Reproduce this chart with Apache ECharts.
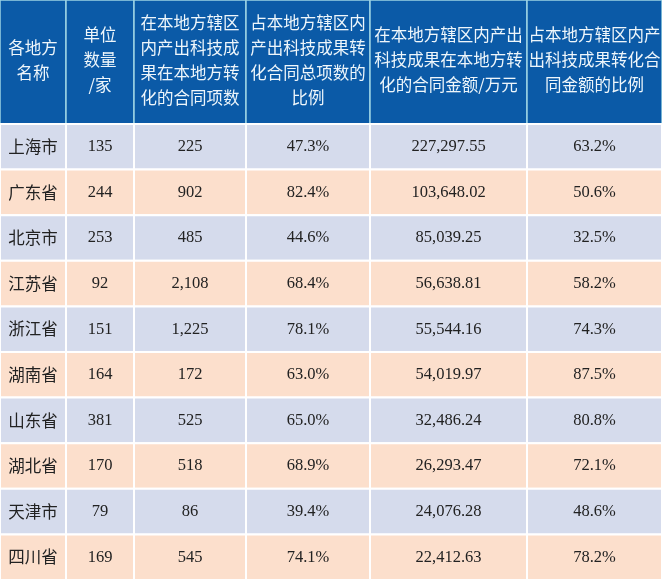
<!DOCTYPE html>
<html>
<head>
<meta charset="utf-8">
<script src="https://cdn.jsdelivr.net/npm/echarts@6/dist/echarts.min.js"></script>
<style>
    html, body { margin: 0; padding: 0; background: #fff; }
    #main { width: 662px; height: 580px; }
</style>
</head>
<body>
<div id="main"></div>
<script>
// 表头
var headers = [
    '各地方\n名称',
    '单位\n数量\n/家',
    '在本地方辖区\n内产出科技成\n果在本地方转\n化的合同项数',
    '占本地方辖区内\n产出科技成果转\n化合同总项数的\n比例',
    '在本地方辖区内产出\n科技成果在本地方转\n化的合同金额/万元',
    '占本地方辖区内产\n出科技成果转化合\n同金额的比例'
];
// 数据
var cities = ['上海市', '广东省', '北京市', '江苏省', '浙江省', '湖南省', '山东省', '湖北省', '天津市', '四川省'];
var units = [135, 244, 253, 92, 151, 164, 381, 170, 79, 169];
var contracts = [225, 902, 485, 2108, 1225, 172, 525, 518, 86, 545];
var contractShare = [47.3, 82.4, 44.6, 68.4, 78.1, 63.0, 65.0, 68.9, 39.4, 74.1];
var amounts = [227297.55, 103648.02, 85039.25, 56638.81, 55544.16, 54019.97, 32486.24, 26293.47, 24076.28, 22412.63];
var amountShare = [63.2, 50.6, 32.5, 58.2, 74.3, 87.5, 80.8, 72.1, 48.6, 78.2];

// 版式
var colEdges = [0, 66, 134, 246, 370, 527, 662];
var headerH = 124;
var rowH = 45.6;

function fmtInt(v) {
    return v.toLocaleString('en-US');
}
function fmtMoney(v) {
    return v.toLocaleString('en-US', {minimumFractionDigits: 2, maximumFractionDigits: 2});
}
function fmtPct(v) {
    return v.toFixed(1) + '%';
}

var cells = [];
headers.forEach(function (h, c) {
    cells.push({c: c, r: -1, text: h});
});
cities.forEach(function (city, i) {
    var row = [city, fmtInt(units[i]), fmtInt(contracts[i]), fmtPct(contractShare[i]),
        fmtMoney(amounts[i]), fmtPct(amountShare[i])];
    row.forEach(function (t, c) {
        cells.push({c: c, r: i, text: t});
    });
});

function renderItem(params, api) {
    var cell = cells[params.dataIndex];
    var x0 = colEdges[cell.c], x1 = colEdges[cell.c + 1];
    var y0 = cell.r < 0 ? 0 : headerH + cell.r * rowH;
    var y1 = cell.r < 0 ? headerH : y0 + rowH;
    var p0 = api.coord([x0, y0]), p1 = api.coord([x1, y1]);
    var x = Math.min(p0[0], p1[0]), y = Math.min(p0[1], p1[1]);
    var w = Math.abs(p1[0] - p0[0]), h = Math.abs(p1[1] - p0[1]);
    var isHead = cell.r < 0;
    var fill = isHead ? '#0b5aa7' : (cell.r % 2 === 0 ? '#d5dbec' : '#fcdfcc');
    var stroke = isHead ? '#9cd2e4' : '#ffffff';
    var font;
    if (isHead) {
        font = '16.5px "Noto Sans CJK SC"';
    } else if (cell.c === 0) {
        font = '16.5px "Noto Sans CJK SC"';
    } else {
        font = '16.5px "Liberation Serif"';
    }
    return {
        type: 'group',
        children: [
            {
                type: 'rect',
                shape: {x: x, y: y, width: w, height: h},
                style: {fill: fill, stroke: stroke, lineWidth: isHead ? 1.5 : 2}
            },
            {
                type: 'text',
                style: {
                    x: x + w / 2,
                    y: y + h / 2 + (isHead ? -2 : 0),
                    text: cell.text,
                    font: font,
                    lineHeight: isHead ? 25 : 20,
                    fill: isHead ? '#eef6fb' : '#222222',
                    align: 'center',
                    verticalAlign: 'middle'
                }
            }
        ]
    };
}

var myChart = echarts.init(document.getElementById('main'));
var option = {
    animation: false,
    grid: {left: 0, right: 0, top: 0, bottom: 0},
    xAxis: {type: 'value', min: 0, max: 662, show: false},
    yAxis: {type: 'value', min: 0, max: 580, inverse: true, show: false},
    series: [{
        type: 'custom',
        renderItem: renderItem,
        data: cells.map(function (c) {
            return [c.c, c.r];
        })
    }]
};
myChart.setOption(option);
</script>
</body>
</html>
